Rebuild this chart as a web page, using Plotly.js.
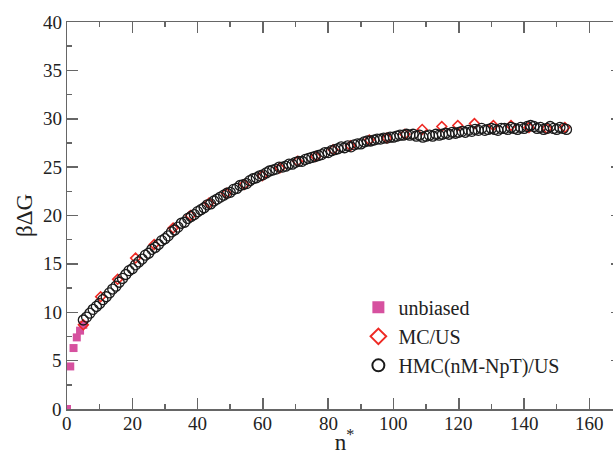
<!DOCTYPE html>
<html>
<head>
<meta charset="utf-8">
<script src="https://cdn.plot.ly/plotly-3.0.1.min.js"></script>
<style>
html, body { margin: 0; padding: 0; overflow: hidden; background: #fff; }
#chart { width: 625px; height: 457px; }
</style>
</head>
<body>
<div id="chart"></div>
<script>
// unbiased simulation
const unbiasedN = [0, 1, 2, 3, 4, 5];
const unbiasedG = [0, 4.4, 6.3, 7.4, 8.1, 8.7];

// MC / umbrella sampling
const mcN = [5, 10.3, 15.5, 21, 26.7, 32.5, 37.8, 43.5, 48.8, 54.3, 59.8, 65.2, 70.6, 76.2,
  81.5, 86.8, 92.6, 98, 103.5, 108.8, 114.8, 119.7, 124.8, 130.6, 136, 141.5, 147, 152.5];
const mcG = [8.7, 11.6, 13.4, 15.6, 17.0, 18.7, 20.0, 21.3, 22.3, 23.2, 24.1, 24.9, 25.6, 26.1,
  26.8, 27.2, 27.8, 28.0, 28.4, 28.9, 29.2, 29.3, 29.5, 29.3, 29.3, 29.1, 29.0, 29.1];

// HMC(nM-NpT) / umbrella sampling
const hmcN = [5, 6, 7, 8, 9, 10, 11, 12, 13, 14, 15, 16, 17, 18, 19, 20, 21, 22, 23, 24,
  25, 26, 27, 28, 29, 30, 31, 32, 33, 34, 35, 36, 37, 38, 39, 40, 41, 42, 43, 44,
  45, 46, 47, 48, 49, 50, 51, 52, 53, 54, 55, 56, 57, 58, 59, 60, 61, 62, 63, 64,
  65, 66, 67, 68, 69, 70, 71, 72, 73, 74, 75, 76, 77, 78, 79, 80, 81, 82, 83, 84,
  85, 86, 87, 88, 89, 90, 91, 92, 93, 94, 95, 96, 97, 98, 99, 100, 101, 102, 103, 104,
  105, 106, 107, 108, 109, 110, 111, 112, 113, 114, 115, 116, 117, 118, 119, 120, 121, 122, 123, 124,
  125, 126, 127, 128, 129, 130, 131, 132, 133, 134, 135, 136, 137, 138, 139, 140, 141, 142, 143, 144,
  145, 146, 147, 148, 149, 150, 151, 152, 153];
const hmcG = [9.2, 9.5, 9.9, 10.3, 10.6, 10.9, 11.3, 11.6, 12.0, 12.4, 12.7, 13.1, 13.5, 13.9, 14.3, 14.5, 14.9, 15.2, 15.5, 15.9,
  16.1, 16.5, 16.7, 17.0, 17.4, 17.6, 17.9, 18.3, 18.5, 18.8, 19.2, 19.3, 19.7, 19.9, 20.1, 20.4, 20.6, 20.8, 21.1, 21.2,
  21.5, 21.7, 21.9, 22.1, 22.3, 22.4, 22.7, 22.8, 23.1, 23.2, 23.3, 23.6, 23.8, 23.9, 24.1, 24.2, 24.4, 24.6, 24.7, 24.8,
  25.0, 25.0, 25.1, 25.3, 25.3, 25.5, 25.6, 25.6, 25.8, 25.9, 26.0, 26.1, 26.2, 26.3, 26.5, 26.5, 26.7, 26.8, 26.9, 27.1,
  27.0, 27.2, 27.1, 27.3, 27.4, 27.4, 27.6, 27.7, 27.7, 27.8, 27.9, 27.9, 28.0, 28.0, 28.1, 28.1, 28.2, 28.3, 28.3, 28.4,
  28.3, 28.4, 28.2, 28.3, 28.1, 28.2, 28.3, 28.2, 28.4, 28.3, 28.4, 28.5, 28.4, 28.6, 28.5, 28.6, 28.7, 28.6, 28.8, 28.7,
  28.9, 28.8, 29.0, 28.8, 28.9, 29.0, 28.9, 28.8, 29.0, 29.0, 28.9, 29.1, 29.0, 28.9, 29.1, 29.0, 29.2, 29.3, 29.2, 29.0,
  29.1, 28.9, 29.0, 29.2, 29.0, 28.9, 29.1, 29.0, 28.9];

const xTicks = [0, 20, 40, 60, 80, 100, 120, 140, 160];
const yTicks = [0, 5, 10, 15, 20, 25, 30, 35, 40];
const xRange = [0, 170];
const yRange = [0, 40];

const SERIF = "Liberation Serif";
const AXIS_GREY = "#666";
const TEXT = "#222";

const traces = [
  {
    x: unbiasedN, y: unbiasedG, name: "unbiased", type: "scatter", mode: "markers",
    marker: { symbol: "square", size: 8, color: "#d6519f" }
  },
  {
    x: mcN, y: mcG, name: "MC/US", type: "scatter", mode: "markers",
    marker: { symbol: "diamond-open", size: 7.5, color: "#ee2a24", line: { width: 1.6, color: "#ee2a24" } }
  },
  {
    x: hmcN, y: hmcG, name: "HMC(nM-NpT)/US", type: "scatter", mode: "markers",
    marker: { symbol: "circle-open", size: 10, color: "#1a1a1a", line: { width: 1.3, color: "#1a1a1a" } }
  },
  // empty trace that only hosts the overlay axes carrying the minor ticks
  { x: [], y: [], xaxis: "x2", yaxis: "y2", type: "scatter", mode: "markers", showlegend: false, hoverinfo: "skip" }
];

// tick labels as serif text placed through the axes' own scales
const tickLabels = [];
xTicks.forEach(v => tickLabels.push({
  x: v, xref: "x", y: 0, yref: "paper", yanchor: "top", yshift: -2,
  text: String(v), showarrow: false, font: { family: SERIF, size: 19, color: TEXT }
}));
yTicks.forEach(v => tickLabels.push({
  x: 0, xref: "paper", xanchor: "right", xshift: -3, y: v, yref: "y", yanchor: "middle",
  text: String(v), showarrow: false, font: { family: SERIF, size: 19, color: TEXT }
}));

const layout = {
  width: 625, height: 457,
  margin: { l: 67, r: 3, t: 22, b: 48 },
  paper_bgcolor: "#fff", plot_bgcolor: "#fff",
  font: { family: SERIF, color: TEXT },
  showlegend: true,
  legend: {
    x: 0.525, y: 0.313, xanchor: "left", yanchor: "top",
    bgcolor: "rgba(0,0,0,0)", borderwidth: 0, itemsizing: "constant",
    font: { family: SERIF, size: 20, color: TEXT }
  },
  annotations: tickLabels,
  xaxis: {
    range: xRange, tickvals: xTicks, showticklabels: false,
    showgrid: false, zeroline: false, showline: true, linecolor: AXIS_GREY, linewidth: 1.5,
    ticks: "inside", ticklen: 11, tickwidth: 1.5, tickcolor: AXIS_GREY, mirror: "ticks",
    title: { text: "n<sup>*</sup>", font: { family: SERIF, size: 23, color: TEXT }, standoff: 24 }
  },
  yaxis: {
    range: yRange, tickvals: yTicks, showticklabels: false,
    showgrid: false, zeroline: false, showline: true, linecolor: AXIS_GREY, linewidth: 1.5,
    ticks: "inside", ticklen: 11, tickwidth: 1.5, tickcolor: AXIS_GREY, mirror: "ticks",
    title: { text: "βΔG", font: { family: SERIF, size: 23, color: TEXT }, standoff: 26 }
  },
  xaxis2: {
    range: xRange, overlaying: "x", anchor: "y2", side: "bottom", tick0: 0, dtick: 10,
    showgrid: false, zeroline: false, showline: false, showticklabels: false,
    ticks: "inside", ticklen: 5, tickwidth: 1.5, tickcolor: AXIS_GREY, mirror: "ticks"
  },
  yaxis2: {
    range: yRange, overlaying: "y", anchor: "x2", side: "left", tick0: 0, dtick: 2.5,
    showgrid: false, zeroline: false, showline: false, showticklabels: false,
    ticks: "inside", ticklen: 5, tickwidth: 1.5, tickcolor: AXIS_GREY, mirror: "ticks"
  }
};

Plotly.newPlot("chart", traces, layout, { displayModeBar: false, staticPlot: true });
</script>
</body>
</html>
